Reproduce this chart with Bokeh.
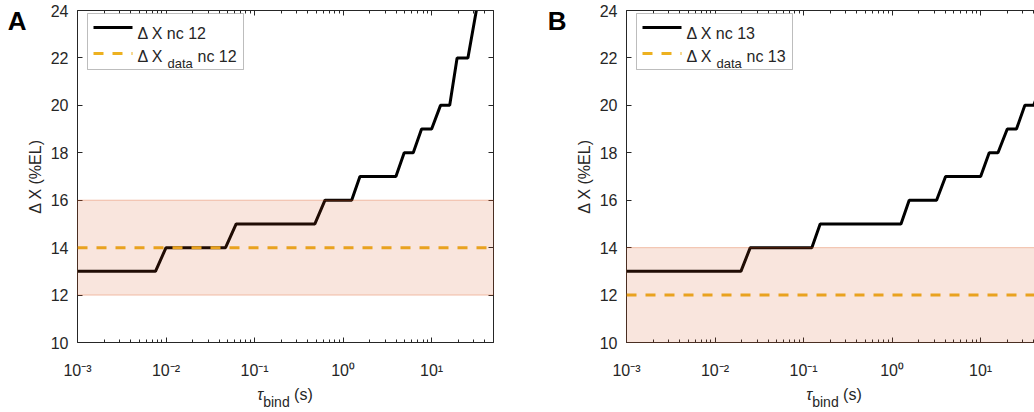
from bokeh.plotting import figure
from bokeh.models import (Range1d, LinearAxis, LogAxis, FixedTicker, CustomJSTickFormatter,
                          BoxAnnotation, Span, Label, Arrow, Div)
from bokeh.layouts import row, column
from bokeh.embed import file_html
from bokeh.resources import INLINE

# ---------------- data ----------------
tau_A = [1e-3, 0.0076, 0.0100, 0.047, 0.062, 0.48, 0.625, 1.25, 1.55, 3.95, 4.9,
         6.2, 7.7, 10.0, 12.6, 16.0, 19.4, 25.7, 32.0, 40.0]
dx_A = [13, 13, 14, 14, 15, 15, 16, 16, 17, 17, 18, 18, 19, 19, 20, 20, 22, 22, 24, 26]

tau_B = [1e-3, 0.0196, 0.025, 0.124, 0.154, 1.26, 1.56, 3.18, 4.02, 10.0, 12.5,
         15.7, 20.0, 25.4, 31.6, 39.8, 50.0]
dx_B = [13, 13, 14, 14, 15, 15, 16, 16, 17, 17, 18, 18, 19, 19, 20, 20, 21]

data_A = 14
data_B = 12
band_A = [12, 16]
band_B = [10, 14]
nc_A = 12
nc_B = 13

x_ticks = [1e-3, 1e-2, 1e-1, 1e0, 1e1]
y_ticks = [10, 12, 14, 16, 18, 20, 22, 24]
xlim_A = [1e-3, 50.0]
xlim_B = [1e-3, 40.6]
ylim = [10, 24]

y_label = "\u0394 X (%EL)"

# ---------------- styling ----------------
AX = "#262626"
FONT = "Liberation Sans"
LINE_ORANGE = "#EDB120"
BAND = "#D95319"
FIG_H = 385
minor_x = [m * 10.0 ** k for k in range(-3, 2) for m in range(2, 10)]

SUP_JS = """
const s = {"-":"\u207b","0":"\u2070","1":"\u00b9","2":"\u00b2","3":"\u00b3","4":"\u2074",
           "5":"\u2075","6":"\u2076","7":"\u2077","8":"\u2078","9":"\u2079"};
const e = Math.round(Math.log10(tick));
return "10" + String(e).split("").map(c => s[c]).join("");
"""


def style_axis(ax, labels=True):
    ax.axis_line_color = AX
    ax.axis_line_width = 1
    ax.major_tick_line_color = AX
    ax.minor_tick_line_color = AX
    ax.major_tick_in = 5
    ax.major_tick_out = 0
    ax.minor_tick_in = 3
    ax.minor_tick_out = 0
    ax.major_label_text_font = FONT
    ax.major_label_text_font_size = "16px"
    ax.major_label_text_color = AX
    if not labels:
        ax.formatter = CustomJSTickFormatter(code="return '';")
        ax.major_label_standoff = 0


def panel(letter, tau, dx, data_val, band, nc, xlim, width, left_border, right_border,
          boxed, letter_standoff):
    p = figure(width=width, height=FIG_H, x_axis_type="log",
               x_range=Range1d(*xlim), y_range=Range1d(*ylim),
               output_backend="svg", toolbar_location=None,
               min_border_left=left_border, min_border_right=right_border,
               min_border_top=10, min_border_bottom=FIG_H - 342,
               background_fill_color="white", border_fill_color="white")
    p.grid.visible = False
    p.outline_line_color = None

    xax = p.xaxis[0]
    xax.ticker = FixedTicker(ticks=x_ticks, minor_ticks=minor_x)
    xax.formatter = CustomJSTickFormatter(code=SUP_JS)
    style_axis(xax)
    xax.major_label_standoff = 19

    yax = p.yaxis[0]
    yax.ticker = FixedTicker(ticks=y_ticks)
    style_axis(yax)
    yax.major_label_standoff = 9
    yax.axis_label = y_label
    yax.axis_label_text_font = FONT
    yax.axis_label_text_font_size = "16px"
    yax.axis_label_text_font_style = "normal"
    yax.axis_label_text_color = AX
    yax.axis_label_standoff = 4

    # panel letter, as the single label of an outer (invisible) left axis
    letter_tick = ylim[1] - 10.5 * (ylim[1] - ylim[0]) / 332.0
    lax = LinearAxis(ticker=FixedTicker(ticks=[letter_tick]),
                     formatter=CustomJSTickFormatter(code=f"return '{letter}';"))
    lax.axis_line_color = None
    lax.major_tick_line_color = None
    lax.minor_tick_line_color = None
    lax.major_tick_in = 0
    lax.major_tick_out = 0
    lax.major_label_standoff = letter_standoff
    lax.major_label_text_font = FONT
    lax.major_label_text_font_size = "26px"
    lax.major_label_text_font_style = "bold"
    lax.major_label_text_color = "black"
    p.add_layout(lax, "left")

    top = LogAxis(ticker=FixedTicker(ticks=x_ticks, minor_ticks=minor_x))
    style_axis(top, labels=False)
    p.add_layout(top, "above")
    if boxed:
        right = LinearAxis(ticker=FixedTicker(ticks=y_ticks))
        style_axis(right, labels=False)
        p.add_layout(right, "right")

    # model curve
    p.line(tau, dx, line_color="black", line_width=3)
    # data line
    p.add_layout(Span(location=data_val, dimension="width", line_color=LINE_ORANGE,
                      line_width=3, line_dash="10 9"))
    # shaded band
    p.add_layout(BoxAnnotation(bottom=band[0], top=band[1], fill_color=BAND, fill_alpha=0.15,
                               line_color=BAND, line_alpha=0.35, line_width=1))

    # legend (manual, to allow the subscript)
    p.add_layout(BoxAnnotation(left=10, right=166, top=329, bottom=273,
                               left_units="screen", right_units="screen",
                               top_units="screen", bottom_units="screen",
                               fill_color="white", fill_alpha=1.0,
                               line_color=AX, line_width=1))
    p.add_layout(Arrow(x_start=16, y_start=315, x_end=55, y_end=315, start=None, end=None,
                       start_units="screen", end_units="screen",
                       line_color="black", line_width=3))
    p.add_layout(Arrow(x_start=16, y_start=289, x_end=55, y_end=289, start=None, end=None,
                       start_units="screen", end_units="screen",
                       line_color=LINE_ORANGE, line_width=3, line_dash="10 9"))

    def lab(x, y, text, size):
        p.add_layout(Label(x=x, y=y, x_units="screen", y_units="screen", text=text,
                           text_font=FONT, text_font_size=size,
                           text_color=AX, text_baseline="alphabetic", text_align="left"))

    lab(60, 309, f"\u0394 X nc {nc}", "16px")
    lab(60, 286, "\u0394 X", "16px")
    lab(90, 279, "data", "13px")
    lab(120, 286, f"nc {nc}", "16px")

    # x-axis title with a real subscript, in a strip under the figure
    html = (f'<div style="margin-left:{left_border}px;width:416px;text-align:center;'
            f'font-family:\'{FONT}\';font-size:16px;color:{AX};line-height:20px;'
            f'padding-top:0px;white-space:nowrap">'
            f'<span style="font-style:italic">\u03c4</span>'
            f'<span style="font-size:14px;vertical-align:-7px">bind</span> (s)</div>')
    xt = Div(text=html, width=width, height=412 - FIG_H, margin=0)
    return column(p, xt, spacing=0)


# panel B's frame starts at x=626; its left border (two stacked left axes) is 94 px
A_W = 626 - 94
colA = panel("A", tau_A, dx_A, data_A, band_A, nc_A, xlim_A, A_W, 77, A_W - 77 - 416, True, -3)
colB = panel("B", tau_B, dx_B, data_B, band_B, nc_B, xlim_B, 1034 - A_W, 94, 0, False, 6)

layout = row(colA, colB, spacing=0)
open("out.html", "w").write(file_html(layout, INLINE))
